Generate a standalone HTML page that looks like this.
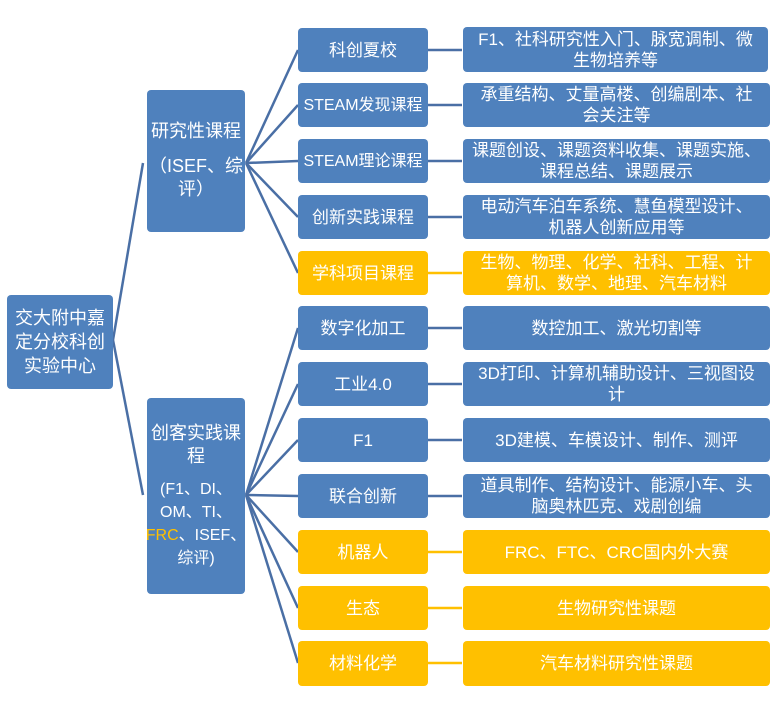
<!DOCTYPE html>
<html><head><meta charset="utf-8"><style>
body{margin:0;width:784px;height:711px;background:#fff;position:relative;overflow:hidden;font-family:"Liberation Sans","Noto Sans CJK SC",sans-serif}
.b{position:absolute;background:#4f81bd;color:#fff;border-radius:4px;display:flex;align-items:center;justify-content:center;text-align:center;font-size:17px;line-height:21px;box-sizing:border-box;padding:0;white-space:nowrap}
.y{background:#ffc000}
svg{position:absolute;left:0;top:0}
</style></head><body>
<svg width="784" height="711">
<g stroke="#4a6fa5" stroke-width="2.5" fill="none">
<line x1="113" y1="340" x2="143" y2="163"/><line x1="113" y1="340" x2="143" y2="495"/>
<line x1="246" y1="163" x2="298" y2="50"/><line x1="246" y1="163" x2="298" y2="105"/><line x1="246" y1="163" x2="298" y2="161"/><line x1="246" y1="163" x2="298" y2="217"/><line x1="246" y1="163" x2="298" y2="273"/>
<line x1="246" y1="495" x2="298" y2="328"/><line x1="246" y1="495" x2="298" y2="384"/><line x1="246" y1="495" x2="298" y2="440"/><line x1="246" y1="495" x2="298" y2="496"/><line x1="246" y1="495" x2="298" y2="552"/><line x1="246" y1="495" x2="298" y2="608"/><line x1="246" y1="495" x2="298" y2="663"/>
<line x1="428" y1="50" x2="462" y2="50"/><line x1="428" y1="105" x2="462" y2="105"/><line x1="428" y1="161" x2="462" y2="161"/><line x1="428" y1="217" x2="462" y2="217"/>
<line x1="428" y1="328" x2="462" y2="328"/><line x1="428" y1="384" x2="462" y2="384"/><line x1="428" y1="440" x2="462" y2="440"/><line x1="428" y1="496" x2="462" y2="496"/>
</g>
<g stroke="#ffc000" stroke-width="2.5">
<line x1="428" y1="273" x2="462" y2="273"/><line x1="428" y1="552" x2="462" y2="552"/><line x1="428" y1="608" x2="462" y2="608"/><line x1="428" y1="663" x2="462" y2="663"/>
</g>
</svg>
<div class="b" style="left:7px;top:295px;width:106px;height:94px;font-size:18px;line-height:24px">交大附中嘉<br>定分校科创<br>实验中心</div>
<div class="b" style="left:147px;top:90px;width:98px;height:142px;font-size:18px;line-height:23px;flex-direction:column;justify-content:flex-start;padding-top:30px">研究性课程<span style="margin-top:12px">（ISEF、综<br>评）</span></div>
<div class="b" style="left:147px;top:398px;width:98px;height:196px;font-size:18px;line-height:23px;flex-direction:column;justify-content:flex-start;padding-top:24px"><span>创客实践课<br>程</span><span style="margin-top:10px;font-size:16px;line-height:23px">(F1、DI、<br>OM、TI、<br><span style="color:#ffc000">FRC</span>、ISEF、<br>综评)</span></div>

<div class="b" style="left:298px;top:28px;width:130px;height:44px">科创夏校</div>
<div class="b" style="left:298px;top:83px;width:130px;height:44px;font-size:16px">STEAM发现课程</div>
<div class="b" style="left:298px;top:139px;width:130px;height:44px;font-size:16px">STEAM理论课程</div>
<div class="b" style="left:298px;top:195px;width:130px;height:44px">创新实践课程</div>
<div class="b y" style="left:298px;top:251px;width:130px;height:44px">学科项目课程</div>
<div class="b" style="left:298px;top:306px;width:130px;height:44px">数字化加工</div>
<div class="b" style="left:298px;top:362px;width:130px;height:44px">工业4.0</div>
<div class="b" style="left:298px;top:418px;width:130px;height:44px">F1</div>
<div class="b" style="left:298px;top:474px;width:130px;height:44px">联合创新</div>
<div class="b y" style="left:298px;top:530px;width:130px;height:44px">机器人</div>
<div class="b y" style="left:298px;top:586px;width:130px;height:44px">生态</div>
<div class="b y" style="left:298px;top:641px;width:130px;height:45px">材料化学</div>

<div class="b" style="left:463px;top:27px;width:305px;height:45px">F1、社科研究性入门、脉宽调制、微<br>生物培养等</div>
<div class="b" style="left:463px;top:83px;width:307px;height:44px">承重结构、丈量高楼、创编剧本、社<br>会关注等</div>
<div class="b" style="left:463px;top:139px;width:307px;height:44px">课题创设、课题资料收集、课题实施、<br>课程总结、课题展示</div>
<div class="b" style="left:463px;top:195px;width:307px;height:44px">电动汽车泊车系统、慧鱼模型设计、<br>机器人创新应用等</div>
<div class="b y" style="left:463px;top:251px;width:307px;height:44px">生物、物理、化学、社科、工程、计<br>算机、数学、地理、汽车材料</div>
<div class="b" style="left:463px;top:306px;width:307px;height:44px">数控加工、激光切割等</div>
<div class="b" style="left:463px;top:362px;width:307px;height:44px">3D打印、计算机辅助设计、三视图设<br>计</div>
<div class="b" style="left:463px;top:418px;width:307px;height:44px">3D建模、车模设计、制作、测评</div>
<div class="b" style="left:463px;top:474px;width:307px;height:44px">道具制作、结构设计、能源小车、头<br>脑奥林匹克、戏剧创编</div>
<div class="b y" style="left:463px;top:530px;width:307px;height:44px">FRC、FTC、CRC国内外大赛</div>
<div class="b y" style="left:463px;top:586px;width:307px;height:44px">生物研究性课题</div>
<div class="b y" style="left:463px;top:641px;width:307px;height:45px">汽车材料研究性课题</div>
</body></html>
